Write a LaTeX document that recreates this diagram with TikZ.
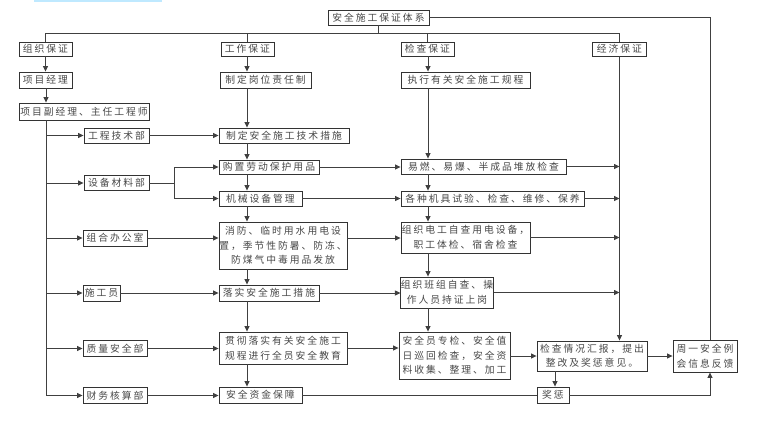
\documentclass[tikz,border=0pt]{standalone}
\usepackage{fontspec}
\usetikzlibrary{arrows.meta}
\newfontfamily\cjk[LetterSpace=20]{Noto Sans CJK SC}
\tikzset{
  box/.style={draw=black!80, line width=0.9pt, inner sep=0pt, align=center,
    text=black!72, font=\cjk\fontsize{9.8}{14.5}\selectfont},
  ln/.style={draw=black!75, line width=0.8pt},
  arr/.style={ln, -{Triangle[length=5.5pt,width=5pt]}}
}
\begin{document}
\begin{tikzpicture}[x=1pt,y=-1pt]
\useasboundingbox (0,0) rectangle (760,434);
\fill[blue!35!cyan!25] (34,0) rectangle (162,1.7);
% top
\node[box, minimum width=101, minimum height=15] (title) at (378.5,17.5) {安全施工保证体系};
\node[box, minimum width=53, minimum height=14] (zz) at (45.5,49) {组织保证};
\node[box, minimum width=53, minimum height=14] (gz) at (247.5,49) {工作保证};
\node[box, minimum width=53, minimum height=14] (jc) at (427.5,49) {检查保证};
\node[box, minimum width=54, minimum height=14] (jj) at (619.5,49) {经济保证};
% level 2
\node[box, minimum width=53, minimum height=16] (xmjl) at (45.5,80) {项目经理};
\node[box, minimum width=91, minimum height=16] (gwzr) at (265.5,80) {制定岗位责任制};
\node[box, minimum width=129, minimum height=16] (zxgc) at (465.5,80) {执行有关安全施工规程};
\node[box, minimum width=130, minimum height=17] (fjl) at (84,111.5) {项目副经理、主任工程师};
% departments
\node[box, minimum width=65, minimum height=15] (gcjs) at (116.5,135.5) {工程技术部};
\node[box, minimum width=65, minimum height=15] (sbcl) at (116.5,183) {设备材料部};
\node[box, minimum width=64, minimum height=16] (zhbg) at (115,238) {组合办公室};
\node[box, minimum width=37, minimum height=16] (sgy) at (101.5,293) {施工员};
\node[box, minimum width=64, minimum height=16] (zlaq) at (115,348.5) {质量安全部};
\node[box, minimum width=64, minimum height=16] (cwhs) at (115,395.5) {财务核算部};
% middle column
\node[box, minimum width=130, minimum height=15] (m1) at (284,135.5) {制定安全施工技术措施};
\node[box, minimum width=100, minimum height=14] (m2) at (269,167) {购置劳动保护用品};
\node[box, minimum width=83, minimum height=15] (m3) at (260.5,198.5) {机械设备管理};
\node[box, minimum width=128, minimum height=47] (m4) at (283,245.5) {消防、临时用水用电设\\置，季节性防暑、防冻、\\防煤气中毒用品发放};
\node[box, minimum width=100, minimum height=16] (m5) at (269,293) {落实安全施工措施};
\node[box, minimum width=128, minimum height=32] (m6) at (283,348) {贯彻落实有关安全施工\\规程进行全员安全教育};
\node[box, minimum width=83, minimum height=16] (m7) at (260.5,395) {安全资金保障};
% right column
\node[box, minimum width=165, minimum height=15] (r1) at (483.5,166.5) {易燃、易爆、半成品堆放检查};
\node[box, minimum width=183, minimum height=15] (r2) at (492.5,198.5) {各种机具试验、检查、维修、保养};
\node[box, minimum width=129, minimum height=31] (r3) at (465.5,237.5) {组织电工自查用电设备，\\职工体检、宿舍检查};
\node[box, minimum width=92, minimum height=31] (r4) at (447,292.5) {组织班组自查、操\\作人员持证上岗};
\node[box, minimum width=111, minimum height=47] (r5) at (454.5,355.5) {安全员专检、安全值\\日巡回检查，安全资\\料收集、整理、加工};
\node[box, minimum width=110, minimum height=30] (jcqk) at (592,356) {检查情况汇报，提出\\整改及奖惩意见。};
\node[box, minimum width=64, minimum height=32] (zy) at (705,356) {周一安全例\\会信息反馈};
\node[box, minimum width=32, minimum height=16] (jc2) at (553,395) {奖惩};
% helper coordinates
\coordinate (bus) at (0,33);
\coordinate (lx) at (46,0);
\coordinate (mx) at (247,0);
\coordinate (rx) at (428,0);
\coordinate (ex) at (619.5,0);
\coordinate (fx) at (710,0);
\coordinate (kx) at (555,0);
% top bus
\draw[ln] (title.south) -- (title.south |- bus);
\draw[ln] (zz.north) -- (zz.north |- bus) -- (jj.north |- bus) -- (jj.north);
\draw[ln] (gz.north) -- (gz.north |- bus);
\draw[ln] (jc.north) -- (jc.north |- bus);
\draw[ln] (title.east) -| (fx |- zy.north);
% left chain
\draw[arr] (zz.south) -- (xmjl.north);
\draw[arr] (lx |- xmjl.south) -- (lx |- fjl.north);
\draw[arr] (lx |- fjl.south) |- (cwhs.west);
\draw[arr] (lx |- gcjs.west) -- (gcjs.west);
\draw[arr] (lx |- sbcl.west) -- (sbcl.west);
\draw[arr] (lx |- zhbg.west) -- (zhbg.west);
\draw[arr] (lx |- sgy.west) -- (sgy.west);
\draw[arr] (lx |- zlaq.west) -- (zlaq.west);
% middle chain
\draw[arr] (mx |- gz.south) -- (mx |- gwzr.north);
\draw[arr] (mx |- gwzr.south) -- (mx |- m1.north);
\draw[arr] (mx |- m1.south) -- (mx |- m2.north);
\draw[arr] (mx |- m2.south) -- (mx |- m3.north);
\draw[arr] (mx |- m3.south) -- (mx |- m4.north);
\draw[arr] (mx |- m4.south) -- (mx |- m5.north);
\draw[arr] (mx |- m5.south) -- (mx |- m6.north);
\draw[arr] (mx |- m6.south) -- (mx |- m7.north);
% dept -> middle
\draw[arr] (gcjs.east) -- (gcjs.east -| m1.west);
\draw[arr] (sbcl.east) -- ++(25,0) |- (m2.west);
\draw[arr] (sbcl.east) -- ++(25,0) |- (m3.west);
\draw[arr] (zhbg.east) -- (zhbg.east -| m4.west);
\draw[arr] (sgy.east) -- (sgy.east -| m5.west);
\draw[arr] (zlaq.east) -- (zlaq.east -| m6.west);
\draw[arr] (cwhs.east) -- (cwhs.east -| m7.west);
% right chain
\draw[arr] (rx |- jc.south) -- (rx |- zxgc.north);
\draw[arr] (rx |- zxgc.south) -- (rx |- r1.north);
\draw[arr] (rx |- r1.south) -- (rx |- r2.north);
\draw[arr] (rx |- r2.south) -- (rx |- r3.north);
\draw[arr] (rx |- r3.south) -- (rx |- r4.north);
\draw[arr] (rx |- r4.south) -- (rx |- r5.north);
% middle -> right
\draw[arr] (m2.east) -- (m2.east -| r1.west);
\draw[arr] (m3.east) -- (m3.east -| r2.west);
\draw[arr] (m4.east |- zhbg.east) -- (r3.west |- zhbg.east);
\draw[arr] (m5.east) -- (m5.east -| r4.west);
\draw[arr] (m6.east) -- (m6.east -| r5.west);
% right -> economic line
\draw[arr] (jj.south) -- (ex |- jcqk.north);
\draw[arr] (r1.east) -- (ex |- r1.east);
\draw[arr] (r2.east) -- (ex |- r2.east);
\draw[arr] (r3.east) -- (ex |- r3.east);
\draw[arr] (r4.east) -- (ex |- r4.east);
% bottom right
\draw[arr] (r5.east |- jcqk.west) -- (jcqk.west);
\draw[arr] (jcqk.east) -- (zy.west);
\draw[arr] (kx |- jcqk.south) -- (kx |- jc2.north);
\draw[ln] (m7.east) -- (jc2.west);
\draw[arr] (jc2.east) -| (fx |- zy.south);
\end{tikzpicture}
\end{document}
